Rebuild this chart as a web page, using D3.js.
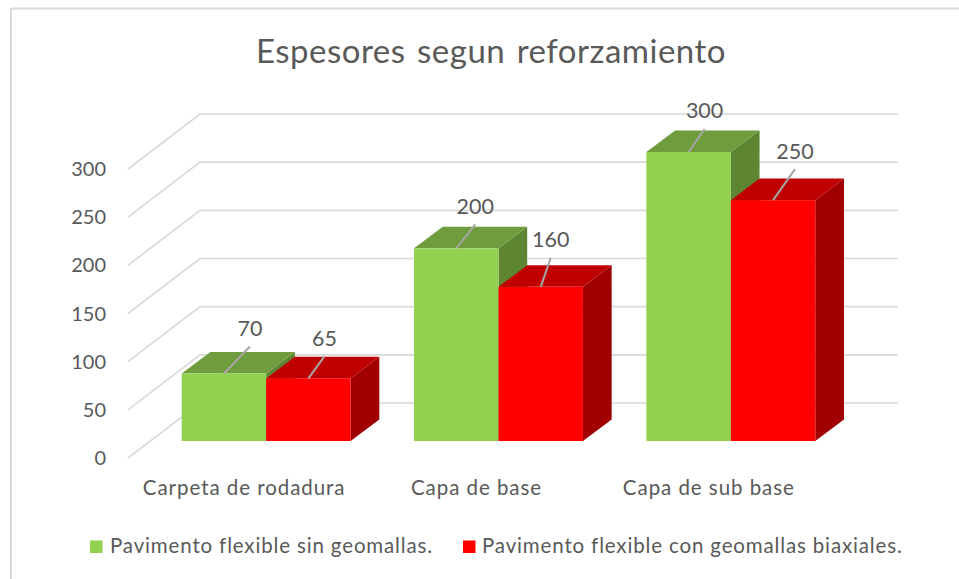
<!DOCTYPE html>
<html><head><meta charset="utf-8">
<script src="https://cdnjs.cloudflare.com/ajax/libs/d3/7.8.5/d3.min.js"></script>
<style>html,body{margin:0;padding:0;background:#fff}svg{display:block}text{font-family:"Lato","Open Sans",sans-serif;fill:#595959}</style>
</head><body><div id="chart"></div>
<script>
const title = "Espesores segun reforzamiento";
const categories = ["Carpeta de rodadura", "Capa de base", "Capa de sub base"];
const seriesNames = ["Pavimento flexible sin geomallas.", "Pavimento flexible con geomallas biaxiales."];
const sinGeomallas = [70, 200, 300];
const conGeomallas = [65, 160, 250];
const yTicks = [0, 50, 100, 150, 200, 250, 300];
const frontColors = ["#92d050", "#ff0000"];
const topColors = ["#6f9c3d", "#c00000"];
const sideColors = ["#5e8531", "#a00000"];

const W = 959, H = 579;
const svg = d3.select("#chart").append("svg").attr("width", W).attr("height", H);
svg.append("path").attr("d", "M11 579V8.5H959").attr("fill", "none").attr("stroke", "#d9d9d9").attr("stroke-width", 2);

const x = d3.scaleBand().domain(categories).range([150, 847]).paddingInner(0.273).paddingOuter(0.1365);
const s = d3.scaleBand().domain(seriesNames).range([0, x.bandwidth()]);
const y = d3.scaleLinear().domain([0, 300]).range([441, 152]);

// oblique projection
const wall = {x0: 128, x1: 200, x2: 898, front: 17, back: -38};
const depth = {dx: 28.7, dy: -21.6};

const g = svg.append("g");
g.selectAll("path.grid").data(yTicks).join("path").attr("class", "grid")
  .attr("d", v => `M${wall.x0} ${y(v)+wall.front}L${wall.x1} ${y(v)+wall.back}H${wall.x2}`)
  .attr("fill", "none").attr("stroke", "#d9d9d9").attr("stroke-width", 1.6);

g.selectAll("text.tick").data(yTicks).join("text").attr("class", "tick")
  .attr("x", 106).attr("y", v => y(v)+wall.front+2).attr("text-anchor", "end")
  .attr("dominant-baseline", "middle").attr("font-size", 20).text(d => d);

const rows = [];
categories.forEach((c, i) => {
  rows.push({c, name: seriesNames[0], k: 0, v: sinGeomallas[i]});
  rows.push({c, name: seriesNames[1], k: 1, v: conGeomallas[i]});
});
const bars = g.selectAll("g.bar").data(rows).join("g").attr("class", "bar");
const L = d => x(d.c) + s(d.name), R = d => L(d) + s.bandwidth();
bars.append("path").attr("fill", d => sideColors[d.k])
  .attr("d", d => `M${R(d)} ${y(0)}L${R(d)+depth.dx} ${y(0)+depth.dy}V${y(d.v)+depth.dy}L${R(d)} ${y(d.v)}Z`);
bars.append("path").attr("fill", d => topColors[d.k])
  .attr("d", d => `M${L(d)} ${y(d.v)}L${L(d)+depth.dx} ${y(d.v)+depth.dy}H${R(d)+depth.dx}L${R(d)} ${y(d.v)}Z`);
bars.append("rect").attr("fill", d => frontColors[d.k])
  .attr("x", L).attr("y", d => y(d.v)).attr("width", s.bandwidth()).attr("height", d => y(0)-y(d.v));

// leader line offsets for the data labels, in the order of rows
const leaders = [[26,-27],[16,-22],[19,-24],[10,-29],[16,-23],[22,-31]];
const lab = g.selectAll("g.lab").data(rows).join("g").attr("class", "lab");
const mid = d => L(d) + s.bandwidth()/2;
lab.append("line").attr("stroke", "#a6a6a6").attr("stroke-width", 2)
  .attr("x1", mid).attr("y1", d => y(d.v))
  .attr("x2", (d,i) => mid(d)+leaders[i][0]).attr("y2", (d,i) => y(d.v)+leaders[i][1]);
lab.append("text").attr("font-size", 21.5).attr("text-anchor", "middle").attr("dominant-baseline", "middle")
  .attr("x", (d,i) => mid(d)+leaders[i][0]).attr("y", (d,i) => y(d.v)+leaders[i][1]-16).text(d => d.v);

g.selectAll("text.cat").data(categories).join("text").attr("class", "cat")
  .attr("x", d => x(d) + x.bandwidth()/2 - 22).attr("y", 490).attr("text-anchor", "middle")
  .attr("dominant-baseline", "middle").attr("font-size", 20.5).attr("letter-spacing", 0.95).text(d => d);

svg.append("text").attr("x", 491).attr("y", 55).attr("text-anchor", "middle").attr("dominant-baseline", "middle")
  .attr("font-size", 33).attr("letter-spacing", 0.5).attr("word-spacing", 2.5).text(title);

const legendX = [90, 463], legendTextX = [110, 482];
const leg = svg.selectAll("g.leg").data(seriesNames).join("g").attr("class", "leg");
leg.append("rect").attr("x", (d,i) => legendX[i]).attr("y", 540.5).attr("width", 12.5).attr("height", 12.5).attr("fill", (d,i) => frontColors[i]);
leg.append("text").attr("x", (d,i) => legendTextX[i]).attr("y", 548).attr("dominant-baseline", "middle").attr("font-size", 20.5).attr("letter-spacing", 0.85).text(d => d);
</script></body></html>
